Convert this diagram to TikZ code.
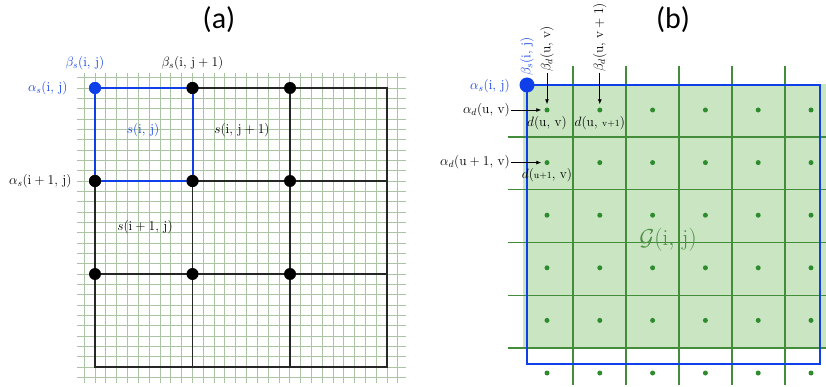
\RequirePackage{fix-cm}
\documentclass[tikz,border=0pt]{standalone}
\usepackage{fontspec}
\usepackage{amsmath}
\usepackage{tikz}
\usetikzlibrary{arrows.meta,positioning}
\newfontfamily\titlefont{Carlito}
\definecolor{cBlue}{HTML}{0F3FE8}
\definecolor{cFine}{HTML}{ABC4A3}
\definecolor{cFill}{HTML}{C9E5C2}
\definecolor{cGLine}{HTML}{428C3A}
\definecolor{cDot}{HTML}{2E8B2E}
\definecolor{cGText}{HTML}{4E9146}

\begin{document}
\begin{tikzpicture}[
  x=1pt, y=-1pt,
  lbl/.style={font=\fontsize{13.5}{15}\selectfont, inner sep=1pt},
  title/.style={font=\titlefont\fontsize{30}{34}\selectfont},
  fine/.style={draw=cFine, line width=0.7pt},
  bigline/.style={draw=black!85, line width=1.5pt},
  knot/.style={circle, fill=black, inner sep=0pt, minimum size=12pt},
  gline/.style={draw=cGLine, line width=1.2pt},
  pt/.style={circle, fill=cDot, inner sep=0pt, minimum size=5pt},
  arr/.style={-{Latex[length=5pt,width=4pt]}, line width=0.8pt},
]
\useasboundingbox (0,0) rectangle (826,387);

% ---------------- panel (a) ----------------
\node[title] (ta) at (219,20) {(a)};

% fine background grid
\foreach \i in {-1,...,28} {
  \draw[fine] ({95+\i*10.815},73) -- ({95+\i*10.815},383);
  \draw[fine] (77,{88+\i*10.333}) -- (406,{88+\i*10.333});
}

% coarse grid
\coordinate (aNW) at (95,88);
\coordinate (aSE) at (387,367);
\draw[bigline] (aNW) rectangle (aSE);
\draw[bigline] (192.5,88) -- (192.5,367);
\draw[bigline] (290,88) -- (290,367);
\draw[bigline] (95,181) -- (387,181);
\draw[bigline] (95,274) -- (387,274);

% knots
\node[knot, fill=cBlue] (k11) at (95,88) {};
\foreach \r/\c in {1/2,1/3,2/1,2/2,2/3,3/1,3/2,3/3}
  \node[knot] (k\r\c) at ({95+(\c-1)*97.5},{88+(\r-1)*93}) {};

% highlighted cell
\draw[cBlue, line width=2pt] (k11.center) rectangle (k22.center);
\node[knot, fill=cBlue] at (k11) {};
\node[knot] at (k12) {};
\node[knot] at (k21) {};
\node[knot] at (k22) {};

\node[lbl, text=cBlue, above=11pt of k11, xshift=-10pt] (bs1) {$\beta_{s}(\mathrm{i},\,\mathrm{j})$};
\node[lbl, above=11pt of k12] (bs2) {$\beta_{s}(\mathrm{i},\,\mathrm{j}+1)$};
\node[lbl, text=cBlue, left=20pt of k11] (as1) {$\alpha_{s}(\mathrm{i},\,\mathrm{j})$};
\node[lbl, left=16pt of k21] (as2) {$\alpha_{s}(\mathrm{i}+1,\,\mathrm{j})$};

\node[lbl, text=cBlue] (sij) at (143,130) {$s(\mathrm{i},\,\mathrm{j})$};
\node[lbl] (sij1) at (242,130) {$s(\mathrm{i},\,\mathrm{j}+1)$};
\node[lbl] (si1j) at (145,227) {$s(\mathrm{i}+1,\,\mathrm{j})$};

% ---------------- panel (b) ----------------
\node[title] (tb) at (673,20) {(b)};

\fill[cFill] (523,84) rectangle (826,348);
\foreach \k in {0,...,4} {
  \draw[gline] ({573+\k*53},66) -- ({573+\k*53},385);
  \draw[gline] (508,{137+\k*52.75}) -- (826,{137+\k*52.75});
}

% sample points
\foreach \r in {1,...,6}
  \foreach \c in {1,...,6}
    \node[pt] (d\r\c) at ({547+(\c-1)*52.8},{110+(\r-1)*52.6}) {};

\draw[cBlue, line width=2pt] (527,85) rectangle (820,364);
\node[circle, fill=cBlue, inner sep=0pt, minimum size=15pt] (g0) at (527,85) {};

\node[lbl, text=cBlue, anchor=east] (as0) at (511,86) {$\alpha_{s}(\mathrm{i},\,\mathrm{j})$};
\node[lbl, text=cBlue, rotate=90, anchor=west] (bs0) at (527,77) {$\beta_{s}(\mathrm{i},\,\mathrm{j})$};

\node[lbl, rotate=90, anchor=west] (bd1) at (547,73) {$\beta_{d}(\mathrm{u},\,\mathrm{v})$};
\node[lbl, rotate=90, anchor=west] (bd2) at (599.8,73) {$\beta_{d}(\mathrm{u},\,\mathrm{v}+1)$};
\node[lbl, anchor=east] (ad1) at (511,110) {$\alpha_{d}(\mathrm{u},\,\mathrm{v})$};
\node[lbl, anchor=east] (ad2) at (511,162.6) {$\alpha_{d}(\mathrm{u}+1,\,\mathrm{v})$};

\draw[arr, shorten >=3pt] (bd1) -- (d11);
\draw[arr, shorten >=3pt] (bd2) -- (d12);
\draw[arr, shorten >=3pt] (ad1) -- (d11);
\draw[arr, shorten >=3pt] (ad2) -- (d21);

\node[lbl, below=2pt of d11] (l11) {$d(\mathrm{u},\,\mathrm{v})$};
\node[lbl, below=2pt of d12] (l12) {$d(\mathrm{u},\,\mathrm{\scriptstyle v+1})$};
\node[lbl, below=2pt of d21] (l21) {$d(\mathrm{\scriptstyle u+1},\,\mathrm{v})$};

\node[text=cGText, font=\fontsize{23}{26}\selectfont] (gij) at (668,240) {$\mathcal{G}(\mathrm{i},\,\mathrm{j})$};

\end{tikzpicture}
\end{document}
